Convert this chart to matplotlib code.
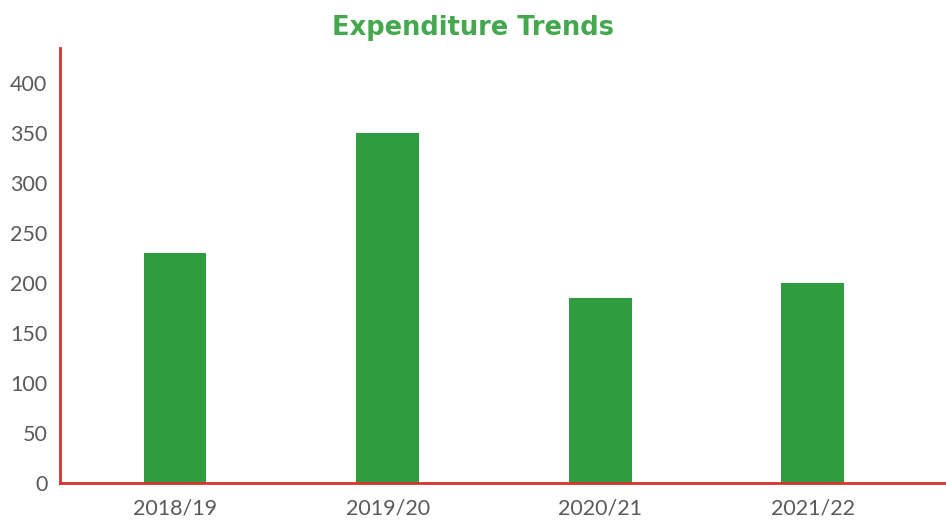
import matplotlib
matplotlib.use('Agg')
import matplotlib.pyplot as plt

years = ['2018/19', '2019/20', '2020/21', '2021/22']
spending = [230, 350, 185, 200]
y_ticks = [0, 50, 100, 150, 200, 250, 300, 350, 400]

plt.rcParams['font.family'] = ['Lato', 'DejaVu Sans']

fig = plt.figure(figsize=(9.46, 5.22), dpi=100)
ax = fig.add_axes([0.0634, 0.0747, 0.9366, 0.8333])

pos = list(range(len(years)))
ax.bar(pos, spending, width=0.296, color='#2e9c3f')

ax.set_xlim(-0.541, 3.626)
ax.set_ylim(0, 435)
ax.set_xticks(pos)
ax.set_xticklabels(years)
ax.set_yticks(y_ticks)
ax.tick_params(length=0, labelsize=15.5, colors='#5a5a5a')
ax.tick_params(axis='y', pad=9)
ax.tick_params(axis='x', pad=11)

for side in ['top', 'right']:
    ax.spines[side].set_visible(False)
for side in ['left', 'bottom']:
    ax.spines[side].set_color('#d8322b')
    ax.spines[side].set_linewidth(2)

fig.text(0.5, 0.947, 'Expenditure Trends', ha='center', va='center',
         fontsize=18.5, fontweight='bold', color='#44a84f', family='DejaVu Sans')

fig.savefig('out.png', dpi=100)
